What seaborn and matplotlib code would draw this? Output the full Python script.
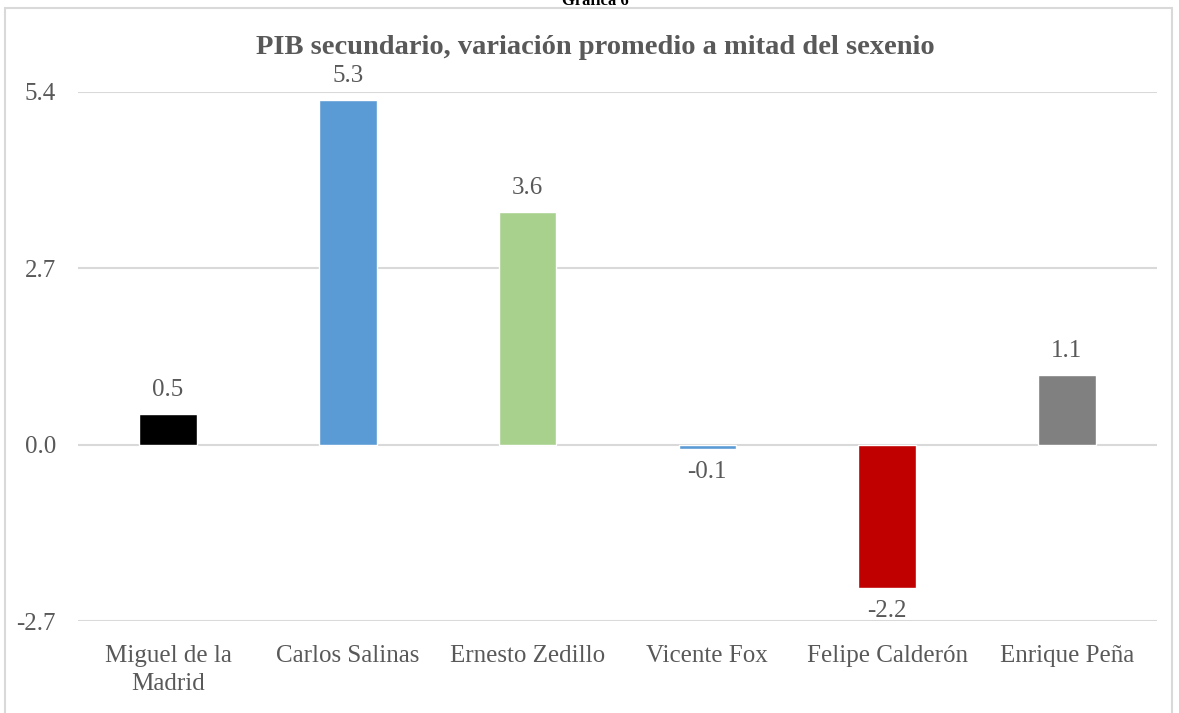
import matplotlib
matplotlib.use("Agg")
import matplotlib.pyplot as plt
import seaborn as sns
from matplotlib.patches import Rectangle

# Chart data
presidentes = ['Miguel de la\nMadrid', 'Carlos Salinas', 'Ernesto Zedillo',
               'Vicente Fox', 'Felipe Calderón', 'Enrique Peña']
variacion = [0.47, 5.28, 3.57, -0.06, -2.19, 1.07]
colores = ['#000000', '#5B9BD5', '#A9D18E', '#5B9BD5', '#C00000', '#808080']
yticks = [-2.7, 0.0, 2.7, 5.4]

sns.set_style('white')
plt.rcParams['font.family'] = ['Liberation Serif', 'DejaVu Serif']
texto = '#595959'

fig = plt.figure(figsize=(11.79, 7.13), dpi=100)
ax = fig.add_axes([0.0662, 0.1290, 0.915, 0.742])

sns.barplot(x=presidentes, y=variacion, hue=presidentes, palette=colores,
            legend=False, width=0.32, saturation=1, ax=ax)

ax.set_ylim(-2.7, 5.4)
ax.set_yticks(yticks)
ax.set_yticklabels([f'{v:.1f}' for v in yticks])
ax.grid(axis='y', color='#D9D9D9', linewidth=1.5)
ax.set_axisbelow(True)
for s in ax.spines.values():
    s.set_visible(False)
ax.tick_params(axis='both', length=0, labelsize=18, labelcolor=texto)
ax.tick_params(axis='y', pad=16)
ax.tick_params(axis='x', pad=17)
for t in ax.get_xticklabels():
    t.set_linespacing(1.4)
ax.set_xlabel('')
ax.set_ylabel('')

for c in ax.containers:
    ax.bar_label(c, fmt='%.1f', padding=9, fontsize=18, color=texto, clip_on=False)

fig.text(0.505, 0.934, 'PIB secundario, variación promedio a mitad del sexenio',
         ha='center', va='center', fontsize=20.5, fontweight='bold', color=texto)
fig.text(0.505, 0.998, 'Gráfica 6', ha='center', va='center', fontsize=12,
         fontweight='bold', color='#000000')

fig.patches.append(Rectangle((0.0045, -0.05), 0.9895, 1.039, transform=fig.transFigure,
                             fill=False, edgecolor='#D9D9D9', linewidth=1.5))

fig.savefig('out.png', dpi=100)
